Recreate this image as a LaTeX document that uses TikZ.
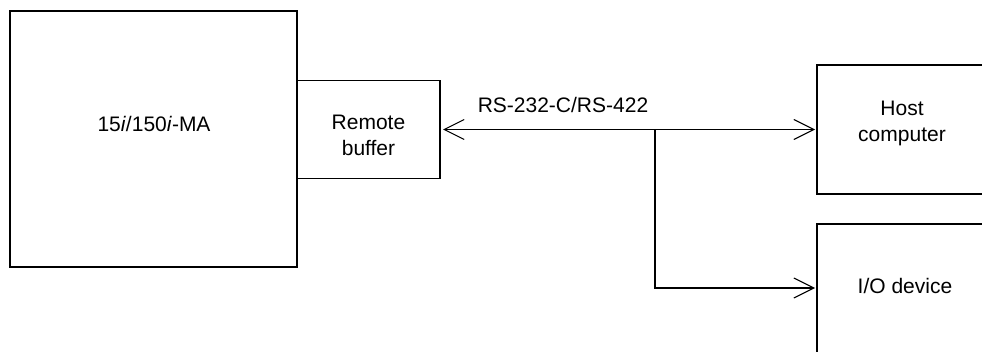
\documentclass[tikz,border=0pt]{standalone}
\usepackage{fontspec}
\setmainfont{Liberation Sans}
\usetikzlibrary{arrows.meta}
\begin{document}
\begin{tikzpicture}[x=1pt,y=-1pt,
  box/.style={draw=black,line width=1.1pt,fill=none,inner sep=0pt,outer sep=0pt},
  openbox/.style={draw=none,inner sep=0pt,outer sep=0pt},
  edge/.style={draw=black,line width=1.1pt},
  txt/.style={font=\fontsize{21}{26}\selectfont,align=center,inner sep=0pt},
  conn/.style={draw=black,line width=1.1pt,-{Straight Barb[length=20pt,width=20pt]}},
  conn2/.style={draw=black,line width=1.1pt,{Straight Barb[length=20pt,width=20pt]}-{Straight Barb[length=20pt,width=20pt]}}]
\useasboundingbox (0,0) rectangle (982,351);
\fill[white] (0,0) rectangle (982,351);
% boxes
\node[box,minimum width=287pt,minimum height=256pt] (ma) at (153.5,139) {};
\node[box,minimum width=143pt,minimum height=98pt] (buf) at (368.5,129.5) {};
\node[openbox,minimum width=166pt,minimum height=129pt] (host) at (900,129.5) {};
\node[openbox,minimum width=166pt,minimum height=128pt] (io) at (900,288) {};
\draw[edge] (host.north east) -- (host.north west) -- (host.south west) -- (host.south east);
\draw[edge] (io.north east) -- (io.north west) -- (io.south west);
% texts
\node[txt,anchor=base] (matxt) at (154,131) {15\textit{i}/150\textit{i}-MA};
\node[txt] (buftxt) at (368.5,135.5) {Remote\\buffer};
\node[txt] (hosttxt) at (902,123) {Host\\computer};
\node[txt,anchor=base] (iotxt) at (905,293) {I/O device};
\node[txt,anchor=base] (rstxt) at (563,112.5) {RS-232-C/RS-422};
% connectors
\coordinate (j) at (655,129.5);
\draw[conn2,shorten <=3pt,shorten >=2pt] (buf.east) -- (host.west);
\draw[conn,shorten >=2pt] (j) |- (io.west);
\end{tikzpicture}
\end{document}
